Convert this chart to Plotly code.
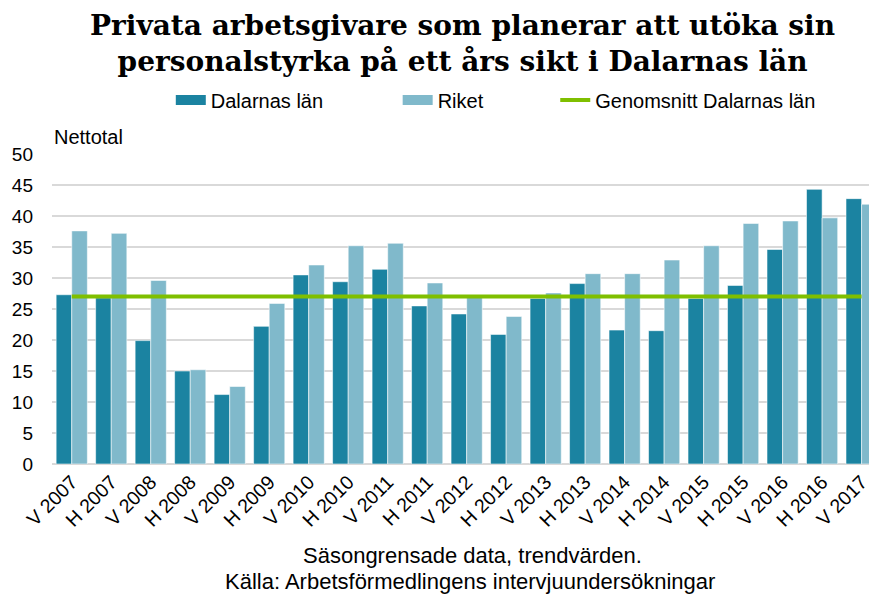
import plotly.graph_objects as go

PERIODS = [
    "V 2007", "H 2007", "V 2008", "H 2008", "V 2009", "H 2009", "V 2010",
    "H 2010", "V 2011", "H 2011", "V 2012", "H 2012", "V 2013", "H 2013",
    "V 2014", "H 2014", "V 2015", "H 2015", "V 2016", "H 2016", "V 2017",
]
DALARNA = [
    27.3, 26.8, 19.9, 15.0, 11.2, 22.2, 30.5, 29.4, 31.4, 25.5, 24.2,
    20.9, 26.7, 29.1, 21.6, 21.5, 26.7, 28.8, 34.6, 44.3, 42.8,
]
RIKET = [
    37.6, 37.2, 29.6, 15.2, 12.5, 25.9, 32.1, 35.2, 35.6, 29.2, 26.9,
    23.8, 27.6, 30.7, 30.7, 32.9, 35.2, 38.8, 39.2, 39.7, 41.9,
]
GENOMSNITT = 27.0

DARK = "#1b83a1"
LIGHT = "#80b9cb"
GREEN = "#7fbf00"
FONT = "Liberation Sans, Arial, sans-serif"

fig = go.Figure()
bar_line = dict(color="rgba(255,255,255,0.55)", width=1)
fig.add_trace(go.Bar(x=PERIODS, y=DALARNA, marker=dict(color=DARK, line=bar_line),
                     showlegend=False))
fig.add_trace(go.Bar(x=PERIODS, y=RIKET, marker=dict(color=LIGHT, line=bar_line),
                     showlegend=False))
fig.add_trace(go.Scatter(x=PERIODS, y=[GENOMSNITT] * len(PERIODS), mode="lines",
                         line=dict(color=GREEN, width=4),
                         name="Genomsnitt Dalarnas län", legend="legend3"))

# legend swatches for the bars (wide rectangles like the original)
fig.add_trace(go.Scatter(x=[None], y=[None], mode="lines", line=dict(color=DARK, width=12),
                         name="Dalarnas län", legend="legend"))
fig.add_trace(go.Scatter(x=[None], y=[None], mode="lines", line=dict(color=LIGHT, width=12),
                         name="Riket", legend="legend2"))

leg = dict(orientation="h", yanchor="middle", y=1.174, xanchor="left",
           font=dict(family=FONT, size=20, color="#000"), bgcolor="rgba(0,0,0,0)")
# page body has an 8px margin, so the figure is 8px smaller than the window
fig.update_layout(
    width=869, height=588,
    margin=dict(l=44, r=0, t=146, b=132),
    plot_bgcolor="white", paper_bgcolor="white",
    barmode="group", bargap=0.21, bargroupgap=0,
    font=dict(family=FONT, color="#000"),
    legend=dict(leg, x=0.144),
    legend2=dict(leg, x=0.419),
    legend3=dict(leg, x=0.61),
    xaxis=dict(
        range=[-0.5, 20.39], tickangle=-45, showgrid=False,
        tickfont=dict(family=FONT, size=19.5), ticklabelstandoff=2,
    ),
    yaxis=dict(
        range=[0, 50], dtick=5, showgrid=True, gridcolor="#d9d9d9", gridwidth=1.5,
        zeroline=True, zerolinecolor="#d9d9d9", zerolinewidth=1.5,
        tickfont=dict(family=FONT, size=19), ticklabelstandoff=18,
    ),
    annotations=[
        dict(text="<b>Privata arbetsgivare som planerar att utöka sin<br>"
                  "personalstyrka på ett års sikt i Dalarnas län</b>",
             xref="paper", yref="paper", x=0.498, y=1.474,
             xanchor="center", yanchor="top", showarrow=False,
             font=dict(family="DejaVu Serif, Georgia, serif", size=28, color="#000")),
        dict(text="Nettotal", xref="paper", yref="paper", x=0, y=1.055,
             xanchor="left", yanchor="middle", showarrow=False,
             font=dict(family=FONT, size=20)),
        dict(text="Säsongrensade data, trendvärden.", xref="paper", yref="paper",
             x=0.51, y=-0.294, xanchor="center", yanchor="middle", showarrow=False,
             font=dict(family=FONT, size=22)),
        dict(text="Källa: Arbetsförmedlingens intervjuundersökningar", xref="paper",
             yref="paper", x=0.507, y=-0.38, xanchor="center", yanchor="middle",
             showarrow=False, font=dict(family=FONT, size=22)),
    ],
)

fig.write_html("out.html")
